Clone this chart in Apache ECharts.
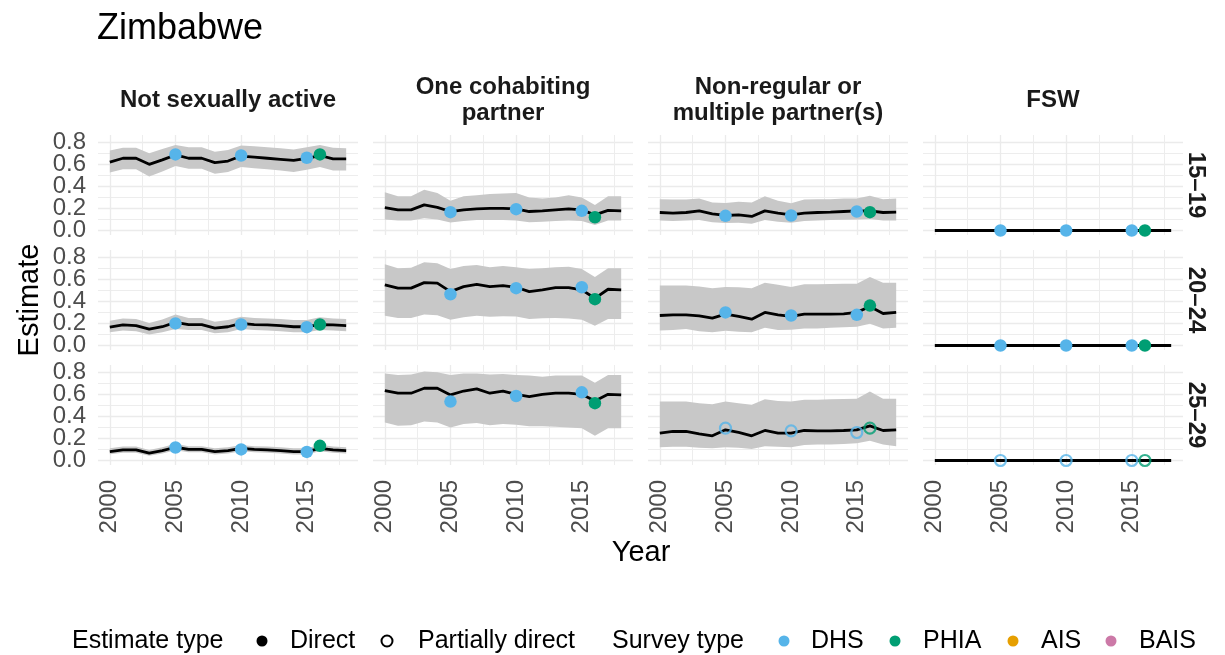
<!DOCTYPE html>
<html><head><meta charset="utf-8">
<script src="https://cdn.jsdelivr.net/npm/echarts@6/dist/echarts.min.js"></script>
<style>html,body{margin:0;padding:0;background:#fff}#c{width:1225px;height:655px}</style>
</head><body><div id="c"></div>
<script>
// ---------- DATA ----------
const years = [2000,2001,2002,2003,2004,2005,2006,2007,2008,2009,2010,2011,2012,2013,2014,2015,2016,2017,2018];
const ageGroups = ['15–19','20–24','25–29'];
const behaviours = ['Not sexually active','One cohabiting\npartner','Non-regular or\nmultiple partner(s)','FSW'];
const yTicks = [0.0,0.2,0.4,0.6,0.8];
const xTicks = [2000,2005,2010,2015];
const dhsYears = [2005,2010,2015];
const phiaYears = [2016];

// Not sexually active
const nsa1519_mid = [0.62,0.655,0.655,0.60,0.64,0.685,0.655,0.655,0.615,0.63,0.675,0.665,0.655,0.645,0.635,0.655,0.68,0.65,0.65];
const nsa1519_lo  = [0.525,0.555,0.555,0.49,0.535,0.585,0.56,0.56,0.515,0.53,0.575,0.565,0.555,0.545,0.53,0.55,0.575,0.545,0.545];
const nsa1519_hi  = [0.725,0.75,0.75,0.70,0.74,0.775,0.755,0.755,0.715,0.73,0.77,0.765,0.755,0.745,0.735,0.755,0.775,0.75,0.745];
const nsa2024_mid = [0.166,0.186,0.18,0.148,0.17,0.21,0.19,0.19,0.157,0.17,0.2,0.19,0.186,0.18,0.17,0.17,0.19,0.186,0.18];
const nsa2024_lo  = [0.12,0.135,0.13,0.1,0.12,0.15,0.14,0.14,0.11,0.12,0.15,0.14,0.135,0.13,0.12,0.12,0.14,0.135,0.13];
const nsa2024_hi  = [0.225,0.245,0.24,0.205,0.235,0.28,0.25,0.25,0.215,0.23,0.26,0.25,0.245,0.24,0.23,0.23,0.255,0.245,0.24];
const nsa2529_mid = [0.081,0.096,0.096,0.066,0.09,0.12,0.10,0.10,0.08,0.09,0.11,0.10,0.096,0.09,0.08,0.08,0.11,0.096,0.09];
const nsa2529_lo  = [0.056,0.07,0.07,0.042,0.064,0.092,0.075,0.075,0.055,0.064,0.084,0.075,0.07,0.064,0.055,0.055,0.083,0.07,0.064];
const nsa2529_hi  = [0.11,0.126,0.126,0.095,0.12,0.152,0.13,0.13,0.11,0.12,0.14,0.13,0.126,0.12,0.11,0.112,0.142,0.126,0.12];
const nsa_dhs  = [[0.69,0.68,0.66],[0.20,0.19,0.166],[0.118,0.10,0.078]];
const nsa_phia = [[0.69],[0.19],[0.133]];

// One cohabiting partner
const ocp1519_mid = [0.208,0.187,0.187,0.232,0.21,0.172,0.187,0.196,0.2,0.2,0.196,0.172,0.178,0.187,0.196,0.187,0.142,0.182,0.178];
const ocp1519_lo  = [0.10,0.09,0.09,0.11,0.10,0.073,0.085,0.095,0.095,0.095,0.09,0.075,0.08,0.085,0.09,0.085,0.05,0.09,0.09];
const ocp1519_hi  = [0.347,0.31,0.31,0.37,0.34,0.27,0.31,0.32,0.33,0.335,0.34,0.3,0.29,0.3,0.32,0.3,0.23,0.31,0.31];
const ocp2024_mid = [0.55,0.52,0.52,0.57,0.565,0.488,0.534,0.555,0.534,0.543,0.528,0.488,0.505,0.525,0.525,0.505,0.428,0.51,0.505];
const ocp2024_lo  = [0.27,0.25,0.25,0.28,0.275,0.233,0.255,0.27,0.26,0.265,0.263,0.24,0.248,0.25,0.245,0.233,0.178,0.24,0.24];
const ocp2024_hi  = [0.736,0.70,0.705,0.755,0.745,0.694,0.72,0.73,0.71,0.72,0.71,0.694,0.70,0.71,0.715,0.694,0.62,0.70,0.70];
const ocp2529_mid = [0.633,0.61,0.61,0.655,0.655,0.595,0.63,0.65,0.61,0.63,0.60,0.58,0.60,0.61,0.61,0.60,0.54,0.60,0.595];
const ocp2529_lo  = [0.344,0.316,0.32,0.353,0.345,0.299,0.33,0.34,0.32,0.33,0.323,0.31,0.31,0.305,0.30,0.293,0.224,0.293,0.293];
const ocp2529_hi  = [0.79,0.776,0.78,0.806,0.80,0.776,0.79,0.79,0.78,0.785,0.776,0.77,0.76,0.77,0.77,0.77,0.706,0.776,0.776];
const ocp_dhs  = [[0.166,0.193,0.178],[0.465,0.52,0.528],[0.534,0.585,0.618]];
const ocp_phia = [[0.12],[0.42],[0.52]];

// Non-regular or multiple partner(s)
const nrm1519_mid = [0.163,0.157,0.163,0.178,0.151,0.136,0.142,0.127,0.178,0.157,0.142,0.157,0.163,0.166,0.172,0.178,0.178,0.163,0.166];
const nrm1519_lo  = [0.09,0.085,0.09,0.095,0.075,0.067,0.07,0.06,0.095,0.08,0.07,0.085,0.09,0.095,0.098,0.1,0.105,0.09,0.09];
const nrm1519_hi  = [0.284,0.28,0.28,0.29,0.254,0.25,0.26,0.254,0.31,0.27,0.248,0.28,0.284,0.284,0.29,0.29,0.314,0.284,0.29];
const nrm2024_mid = [0.272,0.278,0.278,0.269,0.248,0.284,0.263,0.239,0.30,0.278,0.263,0.284,0.284,0.284,0.287,0.30,0.353,0.29,0.30];
const nrm2024_lo  = [0.136,0.14,0.15,0.13,0.12,0.133,0.125,0.12,0.16,0.14,0.142,0.155,0.155,0.16,0.165,0.17,0.196,0.155,0.16];
const nrm2024_hi  = [0.543,0.543,0.543,0.535,0.52,0.53,0.528,0.52,0.57,0.55,0.53,0.555,0.555,0.558,0.56,0.56,0.62,0.57,0.57];
const nrm2529_mid = [0.248,0.263,0.263,0.242,0.224,0.278,0.254,0.224,0.272,0.248,0.248,0.272,0.269,0.269,0.272,0.278,0.314,0.272,0.278];
const nrm2529_lo  = [0.12,0.125,0.125,0.115,0.11,0.12,0.115,0.105,0.13,0.125,0.12,0.14,0.145,0.145,0.15,0.157,0.178,0.145,0.13];
const nrm2529_hi  = [0.534,0.534,0.534,0.52,0.51,0.534,0.52,0.505,0.555,0.54,0.534,0.55,0.55,0.555,0.558,0.56,0.625,0.56,0.56];
const nrm_dhs  = [[0.133,0.136,0.172],[0.30,0.272,0.278],[0.293,0.269,0.254]];
const nrm_phia = [[0.166],[0.362],[0.293]];

// FSW
const fsw_mid = [0,0,0,0,0,0,0,0,0,0,0,0,0,0,0,0,0,0,0];
const fsw_lo  = [0,0,0,0,0,0,0,0,0,0,0,0,0,0,0,0,0,0,0];
const fsw_hi  = [0,0,0,0,0,0,0,0,0,0,0,0,0,0,0,0,0,0,0];
const fsw_dhs  = [[0,0,0],[0,0,0],[0,0,0]];
const fsw_phia = [[0],[0],[0]];

// estimate type per panel (row = age group, col = behaviour)
const estType = [
  ['Direct','Direct','Direct','Direct'],
  ['Direct','Direct','Direct','Direct'],
  ['Direct','Direct','Partially direct','Partially direct']
];

const surveyTypes = ['DHS','PHIA','AIS','BAIS'];
const surveyColors = {DHS:'#56B4E9', PHIA:'#009E73', AIS:'#E69F00', BAIS:'#CC79A7'};

// ---------- BUILD ----------
const panels = [
  [ {mid:nsa1519_mid,lo:nsa1519_lo,hi:nsa1519_hi}, {mid:ocp1519_mid,lo:ocp1519_lo,hi:ocp1519_hi}, {mid:nrm1519_mid,lo:nrm1519_lo,hi:nrm1519_hi}, {mid:fsw_mid,lo:fsw_lo,hi:fsw_hi} ],
  [ {mid:nsa2024_mid,lo:nsa2024_lo,hi:nsa2024_hi}, {mid:ocp2024_mid,lo:ocp2024_lo,hi:ocp2024_hi}, {mid:nrm2024_mid,lo:nrm2024_lo,hi:nrm2024_hi}, {mid:fsw_mid,lo:fsw_lo,hi:fsw_hi} ],
  [ {mid:nsa2529_mid,lo:nsa2529_lo,hi:nsa2529_hi}, {mid:ocp2529_mid,lo:ocp2529_lo,hi:ocp2529_hi}, {mid:nrm2529_mid,lo:nrm2529_lo,hi:nrm2529_hi}, {mid:fsw_mid,lo:fsw_lo,hi:fsw_hi} ]
];
const dhsByCol = [nsa_dhs, ocp_dhs, nrm_dhs, fsw_dhs];
const phiaByCol = [nsa_phia, ocp_phia, nrm_phia, fsw_phia];

const FONT = '"Liberation Sans", Arial, Helvetica, sans-serif';
const PX0 = 98, PY0 = 135, PW = 260, PH = 100, DX = 275, DY = 115;
const XMIN = 1999.1, XMAX = 2018.9, YMIN = -0.041, YMAX = 0.866;

const grids = [], xAxes = [], yAxes = [], series = [];
const near = (v, arr) => arr.some(t => Math.abs(v - t) < 1e-6);

for (let r = 0; r < 3; r++) {
  for (let c = 0; c < 4; c++) {
    const idx = r * 4 + c;
    grids.push({left: PX0 + c * DX, top: PY0 + r * DY, width: PW, height: PH, containLabel: false});
    xAxes.push({
      type: 'value', gridIndex: idx, min: XMIN, max: XMAX, splitNumber: 4, minInterval: 5, maxInterval: 5,
      axisLine: {show: false}, axisTick: {show: false},
      axisLabel: {show: r === 2, rotate: 90, margin: 15, fontSize: 24, color: '#4D4D4D', fontFamily: FONT,
        showMinLabel: false, showMaxLabel: false,
        formatter: v => near(v, xTicks) ? String(Math.round(v)) : ''},
      splitLine: {show: true, showMinLine: false, showMaxLine: false, lineStyle: {color: '#EBEBEB', width: 1.3}},
      minorTick: {show: false, splitNumber: 2},
      minorSplitLine: {show: true, lineStyle: {color: '#EDEDED', width: 1.0}}
    });
    yAxes.push({
      type: 'value', gridIndex: idx, min: YMIN, max: YMAX, splitNumber: 5, minInterval: 0.2, maxInterval: 0.2,
      axisLine: {show: false}, axisTick: {show: false},
      axisLabel: {show: c === 0, margin: 12, fontSize: 24, color: '#4D4D4D', fontFamily: FONT,
        showMinLabel: false, showMaxLabel: false,
        formatter: v => near(v, yTicks) ? v.toFixed(1) : ''},
      splitLine: {show: true, showMinLine: false, showMaxLine: false, lineStyle: {color: '#EBEBEB', width: 1.3}},
      minorTick: {show: false, splitNumber: 2},
      minorSplitLine: {show: true, lineStyle: {color: '#EDEDED', width: 1.0}}
    });
    const p = panels[r][c];
    // uncertainty band: polygon drawn through the axis scales
    series.push({
      type: 'custom', xAxisIndex: idx, yAxisIndex: idx, silent: true, z: 1,
      data: years.map((y, i) => [y, p.lo[i], p.hi[i]]),
      encode: {x: 0, y: [1, 2]},
      renderItem: (params, api) => {
        if (params.dataIndex !== 0) return null;
        const pts = [];
        for (let i = 0; i < years.length; i++) pts.push(api.coord([years[i], p.hi[i]]));
        for (let i = years.length - 1; i >= 0; i--) pts.push(api.coord([years[i], p.lo[i]]));
        return {type: 'polygon', shape: {points: pts}, style: {fill: '#C8C8C8', stroke: null}};
      }
    });
    series.push({
      type: 'line', xAxisIndex: idx, yAxisIndex: idx, silent: true, symbol: 'none', z: 3,
      lineStyle: {color: '#000', width: 2.8}, data: years.map((y, i) => [y, p.mid[i]])
    });
    const hollow = estType[r][c] === 'Partially direct';
    const mk = (name, yrs, vals) => ({
      type: 'scatter', name, xAxisIndex: idx, yAxisIndex: idx, silent: true,
      symbol: 'circle', symbolSize: hollow ? 11 : 12.5, z: 5,
      itemStyle: hollow ? {color: 'rgba(0,0,0,0)', borderColor: surveyColors[name], borderWidth: 2.2}
                        : {color: surveyColors[name], opacity: 1},
      data: yrs.map((y, i) => [y, vals[i]])
    });
    series.push(mk('DHS', dhsYears, dhsByCol[c][r]));
    series.push(mk('PHIA', phiaYears, phiaByCol[c][r]));
  }
}

// ---------- TEXT / LEGEND ----------
const graphic = [];
graphic.push({type: 'text', x: 97, y: 29, style: {text: 'Zimbabwe', font: '36px ' + FONT, fill: '#000', align: 'left', verticalAlign: 'middle'}});
behaviours.forEach((b, c) => {
  graphic.push({type: 'text', x: PX0 + c * DX + PW / 2, y: 100,
    style: {text: b, font: 'bold 24px ' + FONT, fill: '#1A1A1A', align: 'center', verticalAlign: 'middle', lineHeight: 26}});
});
ageGroups.forEach((a, r) => {
  graphic.push({type: 'text', x: 1196, y: PY0 + r * DY + PH / 2, rotation: -Math.PI / 2,
    style: {text: a, font: 'bold 24px ' + FONT, fill: '#1A1A1A', align: 'center', verticalAlign: 'middle'}});
});
graphic.push({type: 'text', x: 30, y: 300, rotation: Math.PI / 2,
  style: {text: 'Estimate', font: '29px ' + FONT, fill: '#000', align: 'center', verticalAlign: 'middle'}});
graphic.push({type: 'text', x: 641, y: 553,
  style: {text: 'Year', font: '29px ' + FONT, fill: '#000', align: 'center', verticalAlign: 'middle'}});

const LY = 641;
const lt = (x, t) => graphic.push({type: 'text', x, y: LY, style: {text: t, font: '25px ' + FONT, fill: '#000', align: 'left', verticalAlign: 'middle'}});
const lc = (x, fill, stroke) => graphic.push({type: 'circle', shape: {cx: x, cy: LY, r: 5.5}, style: {fill, stroke, lineWidth: 2}});
lt(72, 'Estimate type');
lc(262, '#000', null); lt(290, 'Direct');
lc(387, 'rgba(0,0,0,0)', '#000'); lt(418, 'Partially direct');
lt(612, 'Survey type');
const legX = [[784, 811], [895, 923], [1013, 1041], [1111, 1139]];
surveyTypes.forEach((s, i) => { lc(legX[i][0], surveyColors[s], null); lt(legX[i][1], s); });

const chart = echarts.init(document.getElementById('c'), null, {renderer: 'canvas'});
chart.setOption({
  animation: false, backgroundColor: '#fff',
  grid: grids, xAxis: xAxes, yAxis: yAxes, series, graphic
});
</script></body></html>
